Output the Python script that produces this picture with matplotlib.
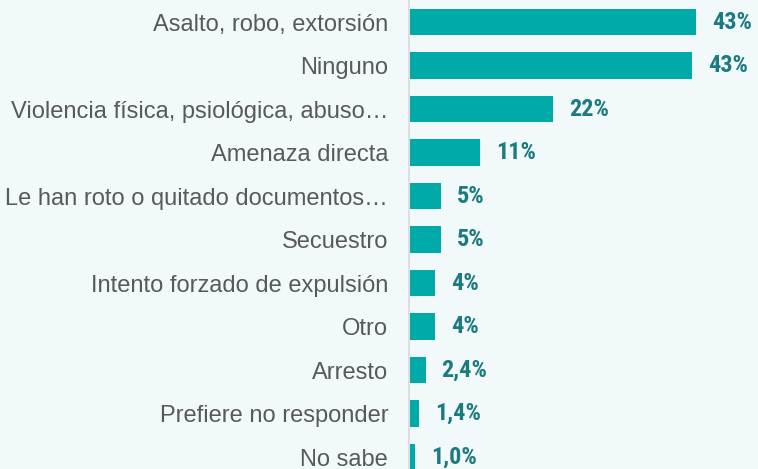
import matplotlib
matplotlib.use("Agg")
import matplotlib.pyplot as plt

categories = [
    "Asalto, robo, extorsión",
    "Ninguno",
    "Violencia física, psiológica, abuso…",
    "Amenaza directa",
    "Le han roto o quitado documentos…",
    "Secuestro",
    "Intento forzado de expulsión",
    "Otro",
    "Arresto",
    "Prefiere no responder",
    "No sabe",
]
values = [43.9, 43.3, 21.9, 10.7, 4.7, 4.7, 3.9, 3.8, 2.4, 1.4, 0.8]
value_labels = ["43%", "43%", "22%", "11%", "5%", "5%", "4%", "4%", "2,4%", "1,4%", "1,0%"]

bg = "#f1f9fa"
bar_color = "#00aaa9"
label_color = "#1b7b80"
text_color = "#595959"

fig = plt.figure(figsize=(7.58, 4.69), dpi=100, facecolor=bg)
ax = fig.add_axes([409 / 758, 0, 1 - 409 / 758, 1], facecolor=bg)

ypos = list(range(len(categories)))
ax.barh(ypos, values, height=0.62, color=bar_color, left=0.15)

ax.set_xlim(0, 53.5)
ax.set_ylim(10 + 12 / 43.5, -22 / 43.5)

for y, v, lab in zip(ypos, values, value_labels):
    ax.annotate(lab, (v + 0.15, y), xytext=(11.5, 0), textcoords="offset points",
                va="center", ha="left", fontsize=17.5, fontweight="bold",
                color=label_color, family=["Roboto Condensed", "Roboto", "DejaVu Sans"])

ax.set_yticks(ypos)
ax.set_yticklabels(categories, fontsize=17.0, color=text_color,
                   family=["Liberation Sans", "DejaVu Sans"])
ax.tick_params(axis="y", length=0, pad=15)
ax.set_xticks([])

for s in ["top", "right", "bottom"]:
    ax.spines[s].set_visible(False)
ax.spines["left"].set_color("#d9d9d9")
ax.spines["left"].set_linewidth(1.2)

fig.savefig("out.png", dpi=100, facecolor=bg)
